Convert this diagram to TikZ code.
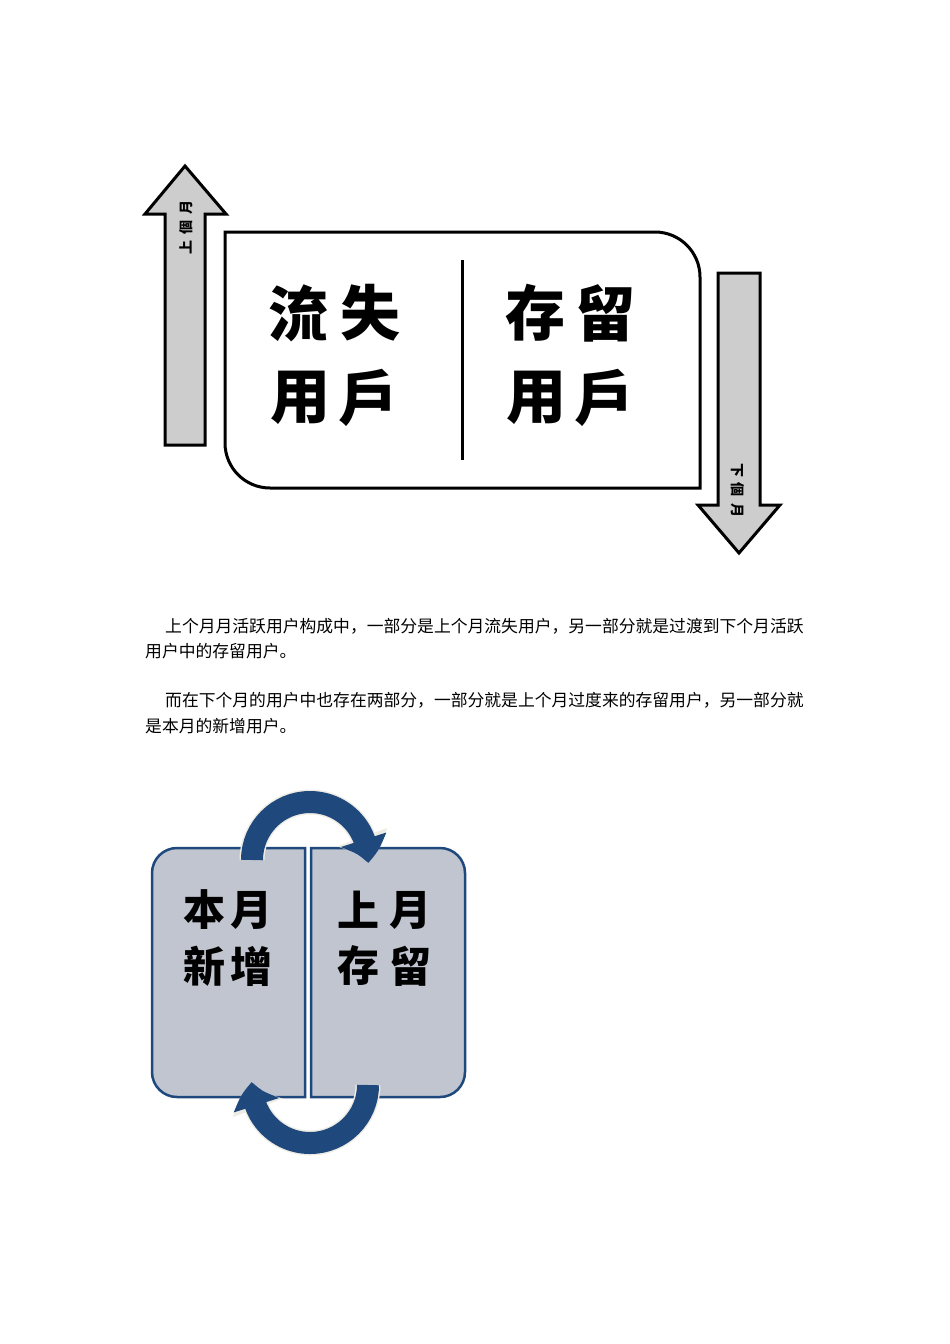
\documentclass[tikz,border=0pt]{standalone}
\usepackage{fontspec}
\usetikzlibrary{arrows.meta,bending}
\newfontfamily\cjkT{Noto Sans CJK TC}
\newfontfamily\cjkS{Noto Sans CJK SC}
\definecolor{boxblue}{RGB}{31,73,125}
\definecolor{boxfill}{RGB}{192,197,207}
\definecolor{arrowgray}{RGB}{205,205,205}
\definecolor{halo}{RGB}{238,236,228}
\tikzset{
  grayarrow/.style={draw=black, line width=3pt, fill=arrowgray, line join=miter},
  bigchar/.style={inner sep=0pt, font=\cjkT\bfseries\fontsize{60}{60}\selectfont},
  midchar/.style={inner sep=0pt, font=\cjkT\bfseries\fontsize{42}{42}\selectfont},
  arrowlabel/.style={inner sep=0pt, font=\cjkT\bfseries\fontsize{14}{14}\selectfont},
  bodytext/.style={inner sep=0pt, anchor=base west, font=\cjkS\fontsize{16.8}{16.8}\selectfont},
  bluebox/.style={draw=boxblue, fill=boxfill, line width=2.5pt},
  circarrow/.style={draw=boxblue, line width=22pt, -{Triangle[bend,width=46pt,length=24pt]}},
  circhalo/.style={draw=halo, line width=25pt, -{Triangle[bend,width=51pt,length=27pt]}}
}
\begin{document}
\begin{tikzpicture}[x=1pt,y=-1pt]
\useasboundingbox (0,0) rectangle (950,1344);
\fill[white] (0,0) rectangle (950,1344);

% up arrow (last month)
\draw[grayarrow] (165,445) -- (205,445) -- (205,214) -- (226,214) -- (185,166) -- (145,214) -- (165,214) -- cycle;
\node[arrowlabel, rotate=90] (lastm) at (186,227) {上\hspace{6pt}個\hspace{6pt}月};

% down arrow (next month)
\draw[grayarrow] (718,273) -- (760,273) -- (760,505) -- (780,505) -- (739,553) -- (698,505) -- (718,505) -- cycle;
\node[arrowlabel, rotate=-90] (nextm) at (738,490) {下\hspace{6pt}個\hspace{6pt}月};

% main box
\draw[line width=3pt] (225,232) -- (655,232) arc (270:360:45) -- (700,488) -- (270,488) arc (90:180:45) -- cycle;
\coordinate (divtop) at (462,260);
\coordinate (divbot) at (462,460);
\draw[line width=3pt] (divtop) -- (divbot);

\node[bigchar] (liu) at (298,313) {流};
\node[bigchar] (shi) at (370,313) {失};
\node[bigchar] (yong1) at (300,398) {用};
\node[bigchar] (hu1) at (368,398) {戶};
\node[bigchar] (cun) at (535,313) {存};
\node[bigchar] (liu2) at (605,313) {留};
\node[bigchar] (yong2) at (536,398) {用};
\node[bigchar] (hu2) at (604,398) {戶};

% paragraph text
\node[bodytext] (p1a) at (165,632) {上个月月活跃用户构成中，一部分是上个月流失用户，另一部分就是过渡到下个月活跃};
\node[bodytext] (p1b) at (145,657) {用户中的存留用户。};
\node[bodytext] (p2a) at (165,706) {而在下个月的用户中也存在两部分，一部分就是上个月过度来的存留用户，另一部分就};
\node[bodytext] (p2b) at (145,732) {是本月的新增用户。};

% bottom diagram boxes
\draw[bluebox] (305,848) -- (177,848) arc (270:180:25) -- (152,1072) arc (180:90:25) -- (305,1097) -- cycle;
\draw[bluebox] (311,848) -- (440,848) arc (270:360:25) -- (465,1072) arc (0:90:25) -- (311,1097) -- cycle;

% circular arrows
\draw[circhalo] (252,860) arc (180:363:58);
\draw[circarrow] (252,860) arc (180:363:58);
\draw[circhalo] (368,1085) arc (0:183:58);
\draw[circarrow] (368,1085) arc (0:183:58);

\node[midchar] (ben) at (204,910) {本};
\node[midchar] (yue1) at (251,910) {月};
\node[midchar] (xin) at (204,966) {新};
\node[midchar] (zeng) at (251,966) {增};
\node[midchar] (shang) at (358,910) {上};
\node[midchar] (yue2) at (410,910) {月};
\node[midchar] (cun2) at (358,966) {存};
\node[midchar] (liu3) at (410,966) {留};
\end{tikzpicture}
\end{document}
